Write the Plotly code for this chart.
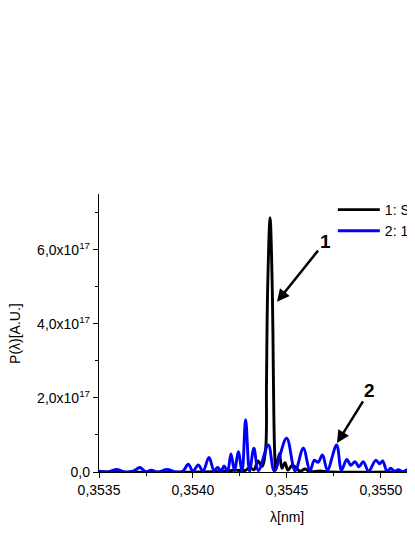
import plotly.graph_objects as go

# ---------------- data (wavelength in nm, power in units of 1e17) ----------------
lam_1 = [0.353500, 0.354037, 0.354170, 0.354223, 0.354277, 0.354303, 0.354324,
         0.354346, 0.354367, 0.354386, 0.354391, 0.354397, 0.354410, 0.354422,
         0.354428, 0.354434, 0.354441, 0.354460, 0.354473, 0.354489, 0.354505,
         0.354527, 0.354548, 0.354569, 0.354596, 0.354622, 0.354676, 0.354729,
         0.355101, 0.355500]
p_1 = [0.0, 0.0, 0.02, 0.05, 0.04, 0.12, 0.06,
       0.3, 0.15, 0.6, 2.4, 4.9, 6.86, 4.9,
       2.4, 0.6, 0.05, 0.5, 0.1, 0.25, 0.05,
       0.18, 0.12, 0.02, 0.08, 0.01, 0.03, 0.0,
       0.0, 0.0]

lam_2 = [0.353500, 0.353548, 0.353596, 0.353638, 0.353681, 0.353718, 0.353750,
         0.353777, 0.353814, 0.353862, 0.353910, 0.353947, 0.353975, 0.354000,
         0.354028, 0.354053, 0.354085, 0.354112, 0.354131, 0.354149, 0.354166,
         0.354184, 0.354202, 0.354221, 0.354241, 0.354261, 0.354280, 0.354301,
         0.354324, 0.354348, 0.354401, 0.354432, 0.354498, 0.354543, 0.354587,
         0.354622, 0.354646, 0.354665, 0.354689, 0.354715, 0.354764, 0.354790,
         0.354818, 0.354840, 0.354862, 0.354883, 0.354906, 0.354934, 0.354973,
         0.354992, 0.355009, 0.355032, 0.355052, 0.355072, 0.355092, 0.355117,
         0.355145, 0.355170, 0.355207, 0.355261, 0.355500]
p_2 = [0.02, 0.0, 0.07, 0.0, 0.02, 0.12, 0.0,
       0.05, 0.0, 0.07, 0.0, 0.03, 0.21, 0.02,
       0.19, 0.02, 0.39, 0.04, 0.12, 0.03, 0.16,
       0.02, 0.49, 0.03, 0.55, 0.02, 1.41, 0.02,
       0.64, 0.04, 0.73, 0.03, 0.91, 0.03, 0.64,
       0.03, 0.32, 0.26, 0.46, 0.05, 0.73, 0.05,
       0.34, 0.18, 0.28, 0.14, 0.28, 0.02, 0.32,
       0.22, 0.30, 0.02, 0.10, 0.02, 0.06, 0.01,
       0.07, 0.01, 0.04, 0.0, 0.0]

names = ["1: Seeded", "2: 10 periods"]
colors = ["#000000", "#0000ff"]

x_ticks = [0.3535, 0.3540, 0.3545, 0.3550]
x_ticktext = ["0,3535", "0,3540", "0,3545", "0,3550"]
y_ticks = [0, 2e17, 4e17, 6e17]
y_ticktext = ["0,0", "2,0x10<sup>17</sup>", "4,0x10<sup>17</sup>", "6,0x10<sup>17</sup>"]

font = "Arial, Liberation Sans, sans-serif"

fig = go.Figure()
for lam, p, nm, c in [(lam_1, p_1, names[0], colors[0]), (lam_2, p_2, names[1], colors[1])]:
    fig.add_trace(go.Scatter(x=lam, y=[v * 1e17 for v in p], mode="lines", name=nm,
                             line=dict(color=c, width=2.9, shape="spline", smoothing=1)))

axis_common = dict(showline=True, linecolor="black", linewidth=1.3, ticks="outside",
                   ticklen=5, tickwidth=1.3, tickcolor="black", showgrid=False,
                   zeroline=False, tickfont=dict(family=font, size=14, color="black"))

# page body adds an 8 px offset, so the figure is 8 px smaller than the window
fig.update_layout(
    width=407, height=529,
    margin=dict(l=91, r=0, t=186, b=65, autoexpand=False),
    plot_bgcolor="white", paper_bgcolor="white",
    xaxis=dict(range=[0.3535, 0.355181], tickvals=x_ticks, ticktext=x_ticktext,
               minor=dict(ticks="outside", ticklen=3, tickcolor="black", dtick=0.00025,
                          tick0=0.3535),
               **axis_common),
    yaxis=dict(range=[0, 7.5e17], tickvals=y_ticks, ticktext=y_ticktext,
               minor=dict(ticks="outside", ticklen=3, tickcolor="black", dtick=1e17,
                          tick0=0),
               **axis_common),
    legend=dict(x=0.74, y=1.0, xanchor="left", yanchor="top", itemwidth=42,
                bgcolor="rgba(0,0,0,0)", font=dict(family=font, size=14, color="black")),
    showlegend=True,
)

# axis titles
fig.add_annotation(x=0.3545, xref="x", y=-0.161, yref="paper", text="λ[nm]",
                   xanchor="center", yanchor="middle", showarrow=False,
                   font=dict(family=font, size=14, color="black"))
fig.add_annotation(x=-0.266, xref="paper", y=0.5, yref="paper", text="P(λ)[A.U.]",
                   xanchor="center", yanchor="middle", textangle=-90, showarrow=False,
                   font=dict(family=font, size=14, color="black"))

# numbered arrows
fig.add_annotation(x=0.354447, y=4.59e17, text="<b>1</b>", ax=48, ay=-60,
                   showarrow=True, arrowhead=2, arrowsize=1, arrowwidth=2.5,
                   arrowcolor="black", font=dict(family=font, size=19, color="black"))
fig.add_annotation(x=0.354766, y=0.78e17, text="<b>2</b>", ax=33, ay=-53,
                   showarrow=True, arrowhead=2, arrowsize=1, arrowwidth=2.5,
                   arrowcolor="black", font=dict(family=font, size=19, color="black"))

fig.write_html("out.html")
